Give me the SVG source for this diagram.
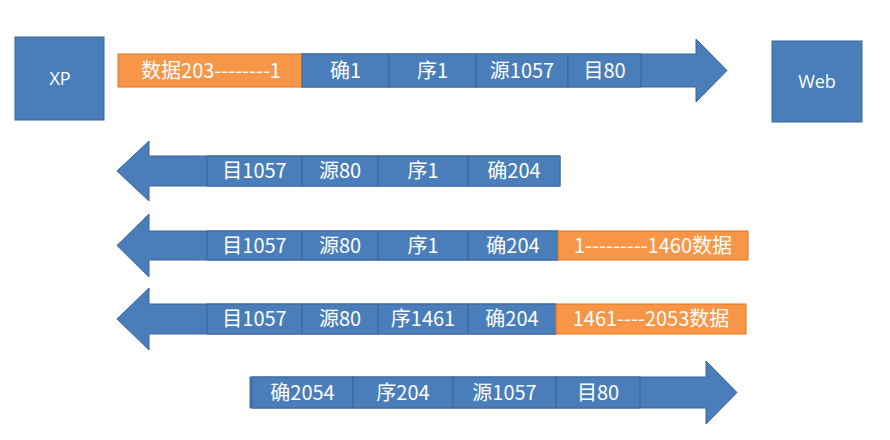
<svg xmlns="http://www.w3.org/2000/svg" width="890" height="440" viewBox="0 0 890 440">
<style>
.b{fill:#4A7EBB;stroke:#3A649A;stroke-width:1}
.o{fill:#F79646;stroke:#E3731C;stroke-width:1}
.arr{fill:#4A7EBB;stroke:#3A649A;stroke-width:1}
.t{font-family:"Noto Sans CJK SC","Noto Sans",sans-serif;font-size:20px;fill:#FFFFFF;text-anchor:middle}
.n{font-family:"Open Sans","Noto Sans",sans-serif;font-size:18px;fill:#FFFFFF;text-anchor:middle}
</style>
<rect width="890" height="440" fill="#FFFFFF"/>
<g id="connectors">
<polygon class="arr" points="300,54 696,54 696,39 727,70.5 696,102 696,87 300,87"/>
<polygon class="arr" points="117,171 149,141 149,156 560,156 560,186 149,186 149,201"/>
<polygon class="arr" points="117,245.5 149,214 149,231 558,231 558,260 149,260 149,277"/>
<polygon class="arr" points="117,319 149,288 149,304 556,304 556,334 149,334 149,350"/>
<polygon class="arr" points="250,377 706,377 706,361 737,392.5 706,424 706,408 250,408"/>
</g>
<g id="xp">
<rect class="b" x="15" y="37" width="89" height="83"/>
<text class="n" x="60" y="85">XP</text>
</g>
<g id="web">
<rect class="b" x="772" y="41" width="90" height="81"/>
<text class="n" x="817" y="88">Web</text>
</g>
<g id="row1">
<rect class="o" x="118" y="54" width="184" height="33"/>
<rect class="b" x="302" y="54" width="87" height="33"/>
<rect class="b" x="389" y="54" width="87" height="33"/>
<rect class="b" x="476" y="54" width="92" height="33"/>
<rect class="b" x="568" y="54" width="73" height="33"/>
<text class="t" x="211" y="78">数据203--------1</text>
<text class="t" x="345.5" y="78">确1</text>
<text class="t" x="432.5" y="78">序1</text>
<text class="t" x="522" y="78">源1057</text>
<text class="t" x="604.5" y="78">目80</text>
</g>
<g id="row2">
<rect class="b" x="207" y="156" width="95" height="30"/>
<rect class="b" x="302" y="156" width="76" height="30"/>
<rect class="b" x="378" y="156" width="90" height="30"/>
<rect class="b" x="468" y="156" width="92" height="30"/>
<text class="t" x="254.5" y="178">目1057</text>
<text class="t" x="340" y="178">源80</text>
<text class="t" x="423" y="178">序1</text>
<text class="t" x="514" y="178">确204</text>
</g>
<g id="row3">
<rect class="b" x="207" y="231" width="95" height="29"/>
<rect class="b" x="302" y="231" width="76" height="29"/>
<rect class="b" x="378" y="231" width="90" height="29"/>
<rect class="b" x="468" y="231" width="90" height="29"/>
<rect class="o" x="558" y="231" width="190" height="29"/>
<text class="t" x="254.5" y="252.5">目1057</text>
<text class="t" x="340" y="252.5">源80</text>
<text class="t" x="423" y="252.5">序1</text>
<text class="t" x="513" y="252.5">确204</text>
<text class="t" x="653" y="252.5">1---------1460数据</text>
</g>
<g id="row4">
<rect class="b" x="207" y="304" width="95" height="30"/>
<rect class="b" x="302" y="304" width="76" height="30"/>
<rect class="b" x="378" y="304" width="90" height="30"/>
<rect class="b" x="468" y="304" width="88" height="30"/>
<rect class="o" x="556" y="304" width="190" height="30"/>
<text class="t" x="254.5" y="326">目1057</text>
<text class="t" x="340" y="326">源80</text>
<text class="t" x="423" y="326">序1461</text>
<text class="t" x="512" y="326">确204</text>
<text class="t" x="651" y="326">1461----2053数据</text>
</g>
<g id="row5">
<rect class="b" x="252" y="377" width="101" height="31"/>
<rect class="b" x="353" y="377" width="100" height="31"/>
<rect class="b" x="453" y="377" width="103" height="31"/>
<rect class="b" x="556" y="377" width="84" height="31"/>
<text class="t" x="302.5" y="399.5">确2054</text>
<text class="t" x="403" y="399.5">序204</text>
<text class="t" x="504.5" y="399.5">源1057</text>
<text class="t" x="598" y="399.5">目80</text>
</g>
</svg>
